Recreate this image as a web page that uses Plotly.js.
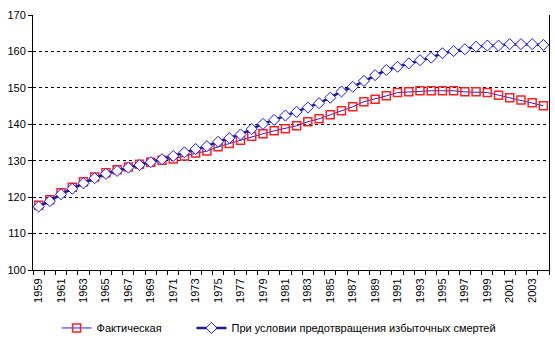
<!DOCTYPE html>
<html><head><meta charset="utf-8">
<script src="https://cdn.plot.ly/plotly-3.0.1.min.js"></script>
<style>html,body{margin:0;padding:0;background:#fff}#chart{width:555px;height:360px}</style>
</head><body><div id="chart"></div>
<script>
const years = [];
for (let y = 1959; y <= 2004; y++) years.push(y);
const actual = [117.8,119.3,121.2,122.7,124.2,125.5,126.7,127.5,128.3,129.0,129.6,130.1,130.5,131.3,132.1,132.7,133.8,134.7,135.6,136.7,137.4,138.2,138.8,139.6,140.7,141.5,142.6,143.7,144.8,146.2,146.9,147.8,148.7,148.9,149.2,149.2,149.2,149.2,148.9,148.9,148.7,148.0,147.3,146.7,145.9,145.1];
const prevented = [117.4,118.9,120.8,122.3,123.8,125.2,126.4,127.2,128.1,128.8,129.6,130.4,131.3,132.3,133.2,134.0,135.2,136.2,137.2,138.7,140.1,141.2,142.4,143.4,144.6,145.8,147.3,149.0,150.3,151.9,153.5,154.9,155.8,156.7,157.6,158.3,159.5,160.1,160.6,161.3,161.6,161.6,162.0,162.0,162.0,161.8];
const seriesNames = ['Фактическая','При условии предотвращения избыточных смертей'];
const labelYears = years.filter(y => (y - 1959) % 2 === 0);
const yTicks = [100,110,120,130,140,150,160,170];
const gridTicks = [110,120,130,140,150,160];

const font = {family:'"Liberation Sans", Arial, sans-serif', size:11, color:'#000'};
const traces = [
  {x:[years[0]], y:[null], yaxis:'y2', showlegend:false, hoverinfo:'skip', mode:'markers'},
  {x: years, y: actual, name: seriesNames[0], type:'scatter', mode:'lines+markers', legend:'legend',
   line:{color:'#2020e0', width:1},
   marker:{symbol:'square-open', size:8, color:'#ff2020', line:{color:'#ff2020', width:1.5}}},
  {x: years, y: prevented, name: seriesNames[1], type:'scatter', mode:'lines+markers', legend:'legend2',
   line:{color:'#1c1c8c', width:2.5},
   marker:{symbol:'diamond', size:8.5, color:'#ffffff', line:{color:'#1414ff', width:1}}}
];
const legBase = {orientation:'h', xref:'container', yref:'container', xanchor:'left', y:0.089, yanchor:'middle', font:font};
const layout = {
  width:555, height:360, font: font,
  paper_bgcolor:'#fff', plot_bgcolor:'#fff',
  margin:{l:33, r:6, t:15, b:90},
  showlegend:true,
  legend: Object.assign({}, legBase, {x:0.102}),
  legend2: Object.assign({}, legBase, {x:0.345}),
  xaxis:{type:'linear', range:[1958.5, 2004.5], tickvals: labelYears, ticktext: labelYears.map(String),
    tickangle:-90, ticks:'', showgrid:false, zeroline:false, showline:true, linecolor:'#000', linewidth:1,
    tickfont:font, ticklabelstandoff:3,
    minor:{tick0:1958.5, dtick:1, ticks:'outside', ticklen:4, tickcolor:'#000', showgrid:false}},
  yaxis:{range:[100,170], tickvals:yTicks, ticks:'outside', ticklen:4, tickcolor:'#000',
    showline:true, mirror:true, linecolor:'#000', linewidth:1, zeroline:false,
    showgrid:false, tickfont:font},
  yaxis2:{range:[100,170], overlaying:'y', tickvals:gridTicks, showticklabels:false, ticks:'',
    showgrid:true, gridcolor:'#000', griddash:'3px,3px', gridwidth:1, zeroline:false, showline:false}
};
Plotly.newPlot('chart', traces, layout, {displayModeBar:false, staticPlot:true});
</script></body></html>
